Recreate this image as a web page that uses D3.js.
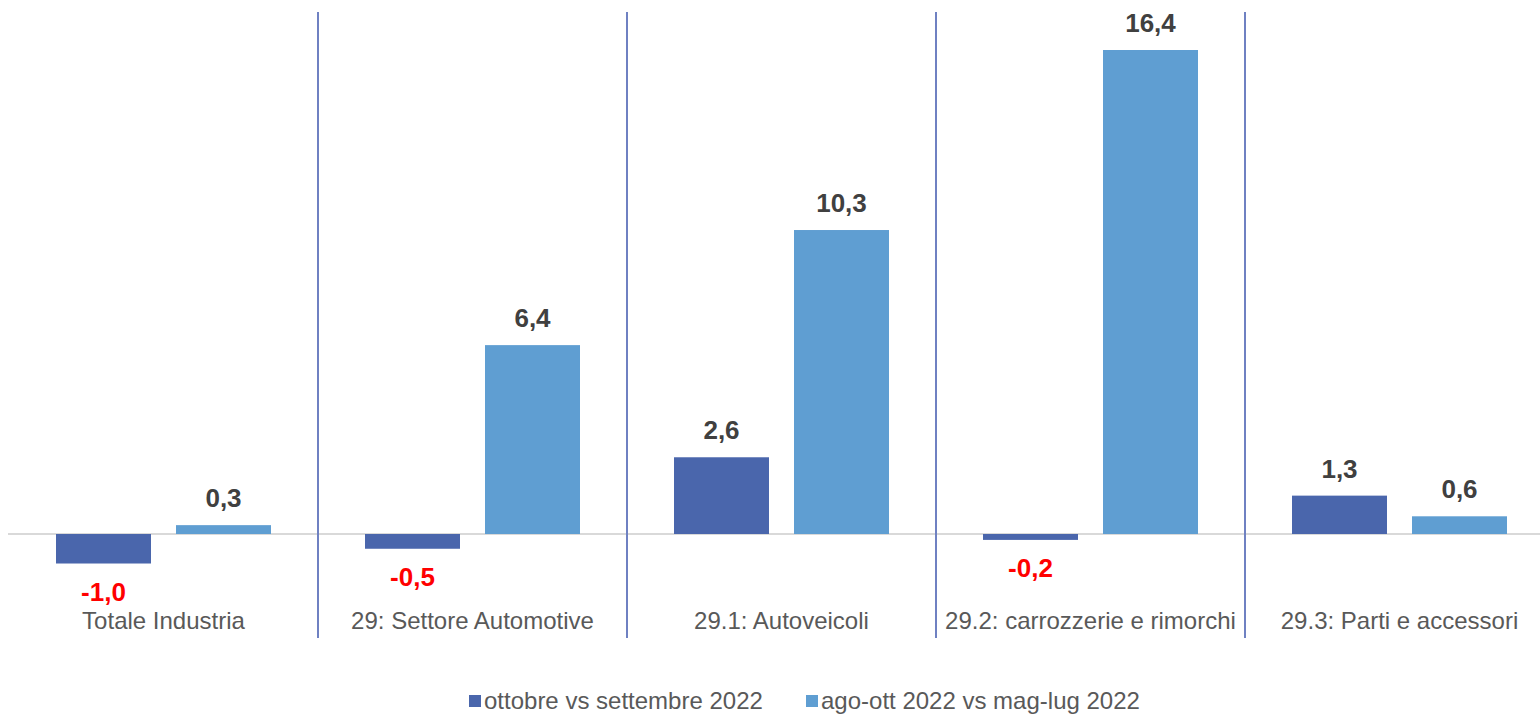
<!DOCTYPE html>
<html><head><meta charset="utf-8">
<script src="https://cdn.jsdelivr.net/npm/d3@7"></script>
<style>html,body{margin:0;padding:0;background:#fff;}svg{display:block;font-family:"Liberation Sans",Arial,sans-serif;}</style>
</head><body>
<svg id="chart" width="1540" height="717"></svg>
<script>
const categories = ["Totale Industria","29: Settore Automotive","29.1: Autoveicoli","29.2: carrozzerie e rimorchi","29.3: Parti e accessori"];
const seriesNames = ["ottobre vs settembre 2022","ago-ott 2022 vs mag-lug 2022"];
const seriesMonthly = [-1.0, -0.5, 2.6, -0.2, 1.3];
const seriesQuarterly = [0.3, 6.4, 10.3, 16.4, 0.6];
const colors = ["#4a66ac","#5f9ed2"];

const svg = d3.select("#chart");
const x = d3.scaleBand().domain(categories).range([9, 1554]).padding(0);
const xs = d3.scaleBand().domain(seriesNames).range([47, 262]).paddingInner(25/120).paddingOuter(0);
const y = d3.scaleLinear().domain([0, 16.4]).range([534, 50]);
const fmt = v => d3.format(".1f")(v).replace(".", ",").replace("\u2212", "-");

const data = [];
categories.forEach((c,i)=>{
  data.push({cat:c, s:seriesNames[0], v:seriesMonthly[i], col:colors[0]});
  data.push({cat:c, s:seriesNames[1], v:seriesQuarterly[i], col:colors[1]});
});

// baseline
svg.append("line").attr("x1",8).attr("x2",1540).attr("y1",y(0)).attr("y2",y(0))
  .attr("stroke","#d9d9d9").attr("stroke-width",2);

// separators
categories.slice(1).forEach(c=>{
  const xx = x(c);
  svg.append("line").attr("x1",xx).attr("x2",xx).attr("y1",12).attr("y2",638)
    .attr("stroke","#6f81c2").attr("stroke-width",2);
});

// bars
svg.selectAll("rect.bar").data(data).join("rect").attr("class","bar")
  .attr("x",d=>x(d.cat)+xs(d.s)).attr("width",xs.bandwidth())
  .attr("y",d=>Math.min(y(0),y(d.v))).attr("height",d=>Math.abs(y(d.v)-y(0)))
  .attr("fill",d=>d.col);

// value labels
svg.selectAll("text.val").data(data).join("text").attr("class","val")
  .attr("x",d=>x(d.cat)+xs(d.s)+xs.bandwidth()/2)
  .attr("y",d=>d.v>=0 ? y(d.v)-18 : y(d.v)+37)
  .attr("text-anchor","middle").attr("font-size",26).attr("font-weight","bold")
  .attr("fill",d=>d.v<0?"#ff0000":"#404040").text(d=>fmt(d.v));

// category labels
svg.selectAll("text.cat").data(categories).join("text").attr("class","cat")
  .attr("x",d=>x(d)+x.bandwidth()/2).attr("y",629)
  .attr("text-anchor","middle").attr("font-size",24).attr("fill","#595959").text(d=>d);

// legend
const leg = svg.append("g");
const legX = [469, 806];
seriesNames.forEach((s,i)=>{
  leg.append("rect").attr("x",legX[i]).attr("y",695).attr("width",12).attr("height",12).attr("fill",colors[i]);
  leg.append("text").attr("x",legX[i]+15).attr("y",709).attr("font-size",24).attr("fill","#595959").text(s);
});
</script>
</body></html>
